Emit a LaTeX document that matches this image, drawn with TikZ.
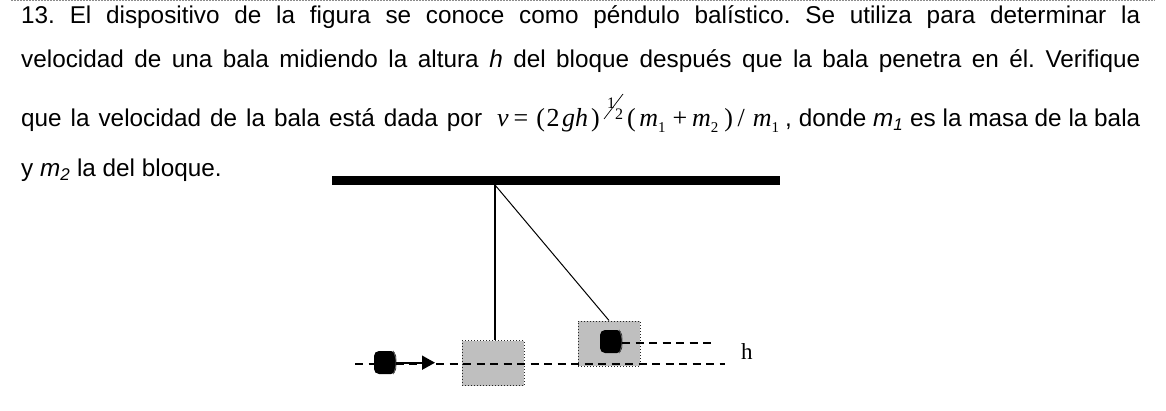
\documentclass[tikz,border=0pt]{standalone}
\usepackage{fontspec}
\setmainfont{Liberation Sans}
\newfontfamily\serifm{Liberation Serif}
\usetikzlibrary{arrows.meta}
\frenchspacing
\tikzset{
  para/.style={anchor=base west,inner sep=0pt,font=\fontsize{24.3}{28}\selectfont},
  mathpart/.style={anchor=base west,inner sep=0pt,font=\fontsize{26}{28}\selectfont\serifm},
  fracdigit/.style={anchor=base west,inner sep=0pt,font=\fontsize{16}{16}\selectfont\serifm},
  blockbox/.style={draw=black!85,dotted,fill=black!25,line width=1pt,minimum width=62pt,minimum height=45pt,inner sep=0pt},
  bullet/.style={fill=black,rounded corners=5pt,minimum width=22pt,minimum height=23pt,inner sep=0pt},
  refline/.style={dash pattern=on 8pt off 5.5pt,line width=1.1pt},
  strthick/.style={line width=1.6pt},
  strthin/.style={line width=1pt},
  sheen/.style={draw=black!60,line width=.8pt}
}
\newcommand{\itm}[1]{{\serifm\itshape #1}}
\newcommand{\rmsub}[1]{\raisebox{-6pt}{\fontsize{15}{15}\selectfont\serifm #1}}
\begin{document}
\begin{tikzpicture}[x=1pt,y=-1pt]
\useasboundingbox (0,0) rectangle (1166,411);
\coordinate (tl) at (11,0.5);
\coordinate (tr) at (1155,0.5);
\draw[black!45,line width=1pt,dash pattern=on 2pt off 1pt] (tl) -- (tr);
\node[para] (l1) at (21,24) {\makebox[1119pt][s]{13. El dispositivo de la figura se conoce como péndulo balístico. Se utiliza para determinar la}};
\node[para] (l2) at (21,68) {\makebox[1119pt][s]{velocidad de una bala midiendo la altura \textit{h} del bloque después que la bala penetra en él. Verifique}};
\node[para] (l3a) at (21,127) {\makebox[461pt][s]{que la velocidad de la bala está dada por}};
\node[mathpart] (f1) at (497,127) {\itm{v}\hspace{5pt}=\hspace{8pt}(\hspace{1.5pt}2\hspace{2.5pt}\itm{gh}\hspace{3pt})};
\node[fracdigit] (f2) at (607,109) {1};
\node[fracdigit] (f3) at (615,120) {2};
\coordinate (sa) at (604,119);
\coordinate (sb) at (623,94);
\draw[line width=.7pt] (sa) -- (sb);
\node[mathpart] (f4) at (627,127) {(\hspace{3.4pt}\itm{m}\rmsub{1}\hspace{7pt}+\hspace{5pt}\itm{m}\rmsub{2}\hspace{6pt})\hspace{4.5pt}/\hspace{8pt}\itm{m}\rmsub{1}};
\node[para] (l3b) at (785,127) {\makebox[355pt][s]{, donde \textit{m\textsubscript{1}} es la masa de la bala}};
\node[para] (l4) at (21,177) {y \textit{m\textsubscript{2}} la del bloque.};
\node[fill=black,minimum width=448pt,minimum height=9pt,inner sep=0pt] (bar) at (556,180.5) {};
\node[blockbox] (b1) at (493,363) {};
\node[blockbox] (b2) at (609,343.5) {};
\coordinate (pivot) at (495,185);
\draw[strthick] (pivot) -- (b1.north -| pivot);
\draw[strthin] (pivot) -- (b2.north);
\node[bullet] (c1) at (385,362.5) {};
\node[bullet] (c2) at (611,341.5) {};
\draw[sheen] ([xshift=-3pt]c1.north east) to[bend left=25] ([xshift=-3pt]c1.south east);
\draw[sheen] ([xshift=-3pt]c2.north east) to[bend left=25] ([xshift=-3pt]c2.south east);
\coordinate (d0) at (355,364);
\coordinate (d1) at (725,364);
\coordinate (u1) at (712,343);
\coordinate (a1) at (435,362.7);
\draw[refline] (d0) -- (d1);
\draw[refline] (c2.east |- u1) -- (u1);
\draw[line width=1.8pt,-{Triangle[length=13pt,width=14pt]}] (c1.east |- a1) -- (a1);
\node[anchor=base west,inner sep=0pt,font=\fontsize{23}{25}\selectfont\serifm] (h) at (741,359) {h};
\end{tikzpicture}
\end{document}
